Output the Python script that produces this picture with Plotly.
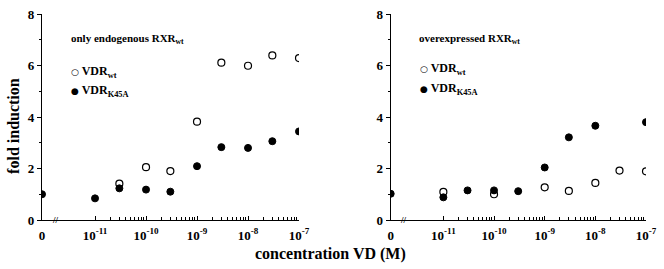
import numpy as np
import plotly.graph_objects as go

# ---- data ----
left_wt_conc = [3e-11, 1e-10, 3e-10, 1e-9, 3e-9, 1e-8, 3e-8, 1e-7]
left_wt_fold = [1.41, 2.05, 1.90, 3.82, 6.11, 5.99, 6.39, 6.29]
left_k45a_conc = [0, 1e-11, 3e-11, 1e-10, 3e-10, 1e-9, 3e-9, 1e-8, 3e-8, 1e-7]
left_k45a_fold = [1.00, 0.84, 1.23, 1.18, 1.10, 2.09, 2.83, 2.80, 3.06, 3.44]

right_wt_conc = [1e-11, 1e-10, 1e-9, 3e-9, 1e-8, 3e-8, 1e-7]
right_wt_fold = [1.09, 1.00, 1.27, 1.13, 1.44, 1.92, 1.89]
right_k45a_conc = [0, 1e-11, 3e-11, 1e-10, 3e-10, 1e-9, 3e-9, 1e-8, 1e-7]
right_k45a_fold = [1.02, 0.88, 1.15, 1.15, 1.12, 2.04, 3.21, 3.66, 3.80]

major_decades = [-11, -10, -9, -8, -7]
tick_labels = ["0", "10<sup>-11</sup>", "10<sup>-10</sup>", "10<sup>-9</sup>",
               "10<sup>-8</sup>", "10<sup>-7</sup>"]
y_ticks = [0, 2, 4, 6, 8]
panel_titles = ["only endogenous RXR<sub>wt</sub>", "overexpressed RXR<sub>wt</sub>"]
series_names = ["VDR<sub>wt</sub>", "VDR<sub>K45A</sub>"]

ZERO_POS = -12.04  # where the "0" concentration sits on the broken axis


def xpos(conc):
    return [np.log10(c) if c > 0 else ZERO_POS for c in conc]


FONT = "Liberation Serif"
fig = go.Figure()

open_marker = dict(symbol="circle", size=7, color="white", line=dict(color="black", width=1.2))
filled_marker = dict(symbol="circle", size=7, color="black", line=dict(color="black", width=1))

fig.add_trace(go.Scatter(x=xpos(left_wt_conc), y=left_wt_fold, mode="markers",
                         marker=open_marker, xaxis="x", yaxis="y", showlegend=False))
fig.add_trace(go.Scatter(x=xpos(left_k45a_conc), y=left_k45a_fold, mode="markers",
                         marker=filled_marker, xaxis="x", yaxis="y", showlegend=False))
fig.add_trace(go.Scatter(x=xpos(right_wt_conc), y=right_wt_fold, mode="markers",
                         marker=open_marker, xaxis="x2", yaxis="y2", showlegend=False))
fig.add_trace(go.Scatter(x=xpos(right_k45a_conc), y=right_k45a_fold, mode="markers",
                         marker=filled_marker, xaxis="x2", yaxis="y2", showlegend=False))

minor_vals = [np.log10(k * 10.0 ** d) for d in range(-11, -7) for k in range(2, 10)]

xaxis_common = dict(
    range=[ZERO_POS, -7.0], tickmode="array",
    tickvals=[ZERO_POS] + major_decades, ticktext=tick_labels,
    showline=True, linecolor="black", linewidth=1.2, mirror=False,
    ticks="inside", ticklen=4, tickwidth=1.2, tickcolor="black",
    minor=dict(tickmode="array", tickvals=minor_vals, ticks="inside", ticklen=3,
               tickwidth=1, tickcolor="black"),
    showgrid=False, zeroline=False,
    tickfont=dict(family=FONT, size=13, color="black", weight="bold"),
    ticklabelstandoff=3, ticklabeloverflow="allow",
)
yaxis_common = dict(
    range=[0, 8], tickmode="array", tickvals=y_ticks,
    showline=True, linecolor="black", linewidth=1.2,
    ticks="outside", ticklen=4, tickwidth=1.2, tickcolor="black",
    minor=dict(tickmode="array", tickvals=[1, 3, 5, 7], ticks="outside", ticklen=2,
               tickwidth=1, tickcolor="black"),
    showgrid=False, zeroline=False,
    tickfont=dict(family=FONT, size=13, color="black", weight="bold"),
    ticklabeloverflow="allow",
)

fig.update_layout(
    width=664, height=269,
    margin=dict(l=42, r=14, t=7, b=49),
    paper_bgcolor="white", plot_bgcolor="white",
    xaxis=dict(domain=[0, 0.4255], anchor="y", **xaxis_common),
    yaxis=dict(domain=[0, 1], anchor="x", **yaxis_common),
    xaxis2=dict(domain=[0.5773, 1.0], anchor="y2", **xaxis_common),
    yaxis2=dict(domain=[0, 1], anchor="x2", **yaxis_common),
    showlegend=False,
)

ann = []
bold = dict(family=FONT, color="black", weight="bold")
# axis titles
ann.append(dict(text="fold induction", xref="paper", yref="paper",
                x=-0.047, y=0.455, textangle=-90, showarrow=False,
                xanchor="center", yanchor="middle", font=dict(size=16, **bold)))
ann.append(dict(text="concentration VD (M)", xref="paper", yref="paper",
                x=0.477, y=-0.165, showarrow=False, xanchor="center", yanchor="middle",
                font=dict(size=16, **bold)))

panels = [("x", "y", 0.0), ("x2", "y2", 0.5773)]
for (xr, yr, x0), title in zip(panels, panel_titles):
    ann.append(dict(text=title, xref="paper", yref="paper",
                    x=x0 + 0.044, y=0.88, showarrow=False, xanchor="left", yanchor="middle",
                    font=dict(size=11, **bold)))
    ann.append(dict(text="<span style='font-family:DejaVu Sans;font-size:9px'>○</span> " + series_names[0],
                    xref="paper", yref="paper", x=x0 + 0.045, y=0.72 if xr == "x" else 0.735,
                    showarrow=False, xanchor="left", yanchor="middle",
                    font=dict(size=12, **bold)))
    ann.append(dict(text="<span style='font-family:DejaVu Sans;font-size:9px'>●</span> " + series_names[1],
                    xref="paper", yref="paper", x=x0 + 0.045, y=0.625 if xr == "x" else 0.635,
                    showarrow=False, xanchor="left", yanchor="middle",
                    font=dict(size=12, **bold)))
    # axis break mark
    ann.append(dict(text="//", xref=xr, yref=yr, x=-11.78, y=0, showarrow=False,
                    xanchor="center", yanchor="middle",
                    font=dict(size=9, **bold)))

fig.update_layout(annotations=ann)
fig.write_html("out.html")
